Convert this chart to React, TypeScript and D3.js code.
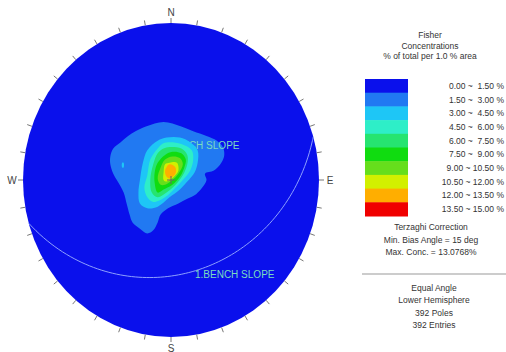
import React from "react";
import * as d3 from "d3";

const width = 506;
const height = 352;

// net placement (the reference is slightly stretched vertically)
const cx = 171;
const cy = 180;
const rx = 148;
const ry = 157;

const compassLabels = ["N", "E", "S", "W"];

const binLabels = [
  "0.00 ~  1.50 %",
  "1.50 ~  3.00 %",
  "3.00 ~  4.50 %",
  "4.50 ~  6.00 %",
  "6.00 ~  7.50 %",
  "7.50 ~  9.00 %",
  "9.00 ~ 10.50 %",
  "10.50 ~ 12.00 %",
  "12.00 ~ 13.50 %",
  "13.50 ~ 15.00 %",
];
const binColors = [
  "#0a10ec",
  "#2179f2",
  "#1ec6f6",
  "#2eeec8",
  "#26e470",
  "#10dc10",
  "#66de1c",
  "#d2f000",
  "#ffae00",
  "#f00000",
];

const titleLines = ["Fisher", "Concentrations", "% of total per 1.0 % area"];
const noteLines = ["Terzaghi Correction", "Min. Bias Angle = 15 deg", "Max. Conc. = 13.0768%"];
const infoLines = ["Equal Angle", "Lower Hemisphere", "392 Poles", "392 Entries"];

// contour outlines in % of net radius: [east, north]
const ring1: [number, number][] = [
  [-5, 37], [1, 36], [7, 34], [15, 31], [24, 28], [31, 25], [35, 21], [36, 16],
  [34, 11], [29, 6], [23, 4], [24, 0], [21, -5], [17, -9], [11, -12], [5, -15],
  [-2, -18], [-7, -22], [-9, -27], [-12, -32], [-16, -34], [-21, -31], [-26, -27],
  [-28, -22], [-30, -15], [-32, -8], [-36, -1], [-39, 4], [-41, 10], [-41, 15],
  [-39, 20], [-34, 24], [-29, 28], [-24, 31], [-17, 34], [-11, 36],
];
const ring2: [number, number][] = [
  [-3, 27], [6, 27], [13, 24], [18, 19], [18, 11], [16, 5], [11, -1], [6, -6],
  [-1, -11], [-9, -17], [-16, -18], [-21, -15], [-22, -8], [-21, 0], [-19, 11],
  [-16, 19], [-9, 25],
];
const ring3: [number, number][] = [
  [-2, 24], [7, 23], [14, 19], [15, 13], [13, 6], [8, 0], [3, -5], [-4, -11],
  [-12, -14], [-16, -11], [-18, -5], [-16, 3], [-14, 13], [-9, 20], [-6, 23],
];
const ring4: [number, number][] = [
  [-1, 21], [7, 20], [11, 16], [11, 10], [8, 3], [4, -2], [-3, -8], [-9, -11],
  [-13, -8], [-14, 0], [-12, 10], [-9, 17], [-5, 20],
];
const ring5: [number, number][] = [
  [1, 18], [7, 17], [10, 13], [9, 8], [6, 2], [1, -3], [-5, -6], [-9, -8],
  [-11, -2], [-11, 5], [-9, 11], [-4, 16],
];
const ring6: [number, number][] = [
  [1, 15], [6, 14], [8, 10], [5, 4], [1, 0], [-4, -3], [-7, -3], [-9, 1],
  [-7, 8], [-4, 13],
];
const ring7: [number, number][] = [
  [-1, 11], [4, 11], [5, 6], [2, 2], [-3, -1], [-5, 0], [-5, 5], [-4, 10],
];
const ring8: [number, number][] = [
  [-1, 10], [3, 8], [3, 4], [-1, 1], [-3, 2], [-4, 6],
];
const islandRing: [number, number][] = [
  [-33, 11], [-32, 11], [-32, 8], [-33, 8],
];

const contourRings = [
  { level: 1, pts: ring1 },
  { level: 2, pts: ring2 },
  { level: 2, pts: islandRing },
  { level: 3, pts: ring3 },
  { level: 4, pts: ring4 },
  { level: 5, pts: ring5 },
  { level: 6, pts: ring6 },
  { level: 7, pts: ring7 },
  { level: 8, pts: ring8 },
];

// bench slope plane
const benchName = "1.BENCH SLOPE";
const benchDip = 28;
const benchDipDir = 164;

const font = "'Liberation Sans', Arial, sans-serif";

export default function App() {
  const x = d3.scaleLinear().domain([-100, 100]).range([cx - rx, cx + rx]);
  const y = d3.scaleLinear().domain([-100, 100]).range([cy + ry, cy - ry]);

  const ringPath = d3
    .line<[number, number]>()
    .x((d) => x(d[0]))
    .y((d) => y(d[1]))
    .curve(d3.curveCatmullRomClosed.alpha(0.5));

  // great circle, lower hemisphere stereographic
  const rad = Math.PI / 180;
  const a = benchDipDir * rad;
  const dp = benchDip * rad;
  const sv = [Math.sin(a - Math.PI / 2), Math.cos(a - Math.PI / 2), 0];
  const dv = [Math.sin(a) * Math.cos(dp), Math.cos(a) * Math.cos(dp), Math.sin(dp)];
  const arcPts: [number, number][] = d3.range(0, 181, 2).map((t) => {
    const c = Math.cos(t * rad);
    const s = Math.sin(t * rad);
    const e = c * sv[0] + s * dv[0];
    const n = c * sv[1] + s * dv[1];
    const dn = Math.max(0, c * sv[2] + s * dv[2]);
    const plunge = Math.asin(Math.min(1, dn));
    const trend = Math.atan2(e, n);
    const r = Math.tan((Math.PI / 2 - plunge) / 2) * 100;
    return [r * Math.sin(trend), r * Math.cos(trend)];
  });
  const arcPath = d3
    .line<[number, number]>()
    .x((d) => x(d[0]))
    .y((d) => y(d[1]))
    .curve(d3.curveBasis)(arcPts);

  const ticks = d3.range(0, 360, 10);

  const band = d3.scaleBand<string>().domain(binLabels).range([79, 216]);

  const lowerRings = contourRings.filter((r) => r.level === 1);
  const upperRings = contourRings.filter((r) => r.level > 1);

  return (
    <svg
      width={width}
      height={height}
      style={{ position: "absolute", left: 0, top: 0, background: "#fff" }}
      fontFamily={font}
    >
      <ellipse cx={cx} cy={cy} rx={rx} ry={ry} fill={binColors[0]} />

      {ticks.map((deg) => {
        const t = deg * rad;
        const len = 5;
        const ux = Math.sin(t);
        const uy = -Math.cos(t);
        const x0 = cx + rx * ux;
        const y0 = cy + ry * uy;
        return (
          <line
            key={deg}
            x1={x0}
            y1={y0}
            x2={x0 + ux * len}
            y2={y0 + uy * len}
            stroke="#777"
            strokeWidth={1}
          />
        );
      })}

      {compassLabels.map((lab, i) => {
        const t = i * 90 * rad;
        const off = 11;
        return (
          <text
            key={lab}
            x={cx + (rx + off) * Math.sin(t)}
            y={cy - (ry + off) * Math.cos(t)}
            textAnchor="middle"
            dominantBaseline="central"
            fontSize={10}
            fill="#444"
          >
            {lab}
          </text>
        );
      })}

      {lowerRings.map((r, i) => (
        <path key={"l" + i} d={ringPath(r.pts) || ""} fill={binColors[r.level]} />
      ))}

      <text x={160} y={149} fontSize={10} fill="#7adcc0">
        {benchName}
      </text>

      {upperRings.map((r, i) => (
        <path key={"u" + i} d={ringPath(r.pts) || ""} fill={binColors[r.level]} />
      ))}

      <line x1={cx - 4} x2={cx + 4} y1={cy} y2={cy} stroke="#666" strokeWidth={1} />
      <line x1={cx} x2={cx} y1={cy - 4} y2={cy + 4} stroke="#666" strokeWidth={1} />

      <path d={arcPath || ""} fill="none" stroke="#8ea0ff" strokeWidth={1} />
      <text x={195} y={278} fontSize={10} fill="#7adcc0">
        {benchName}
      </text>

      {titleLines.map((t, i) => (
        <text key={t} x={430} y={38 + i * 10.5} textAnchor="middle" fontSize={8.5} fill="#333">
          {t}
        </text>
      ))}

      {binLabels.map((lab, i) => (
        <g key={lab}>
          <rect
            x={365}
            y={band(lab) ?? 0}
            width={43}
            height={band.bandwidth() + 0.5}
            fill={binColors[i]}
          />
          <text
            x={504}
            y={(band(lab) ?? 0) + band.bandwidth() / 2}
            dominantBaseline="central"
            textAnchor="end"
            fontSize={8.5}
            fill="#333"
            style={{ whiteSpace: "pre" }}
          >
            {lab}
          </text>
        </g>
      ))}

      {noteLines.map((t, i) => (
        <text key={t} x={431} y={230 + i * 12.5} textAnchor="middle" fontSize={8.5} fill="#333">
          {t}
        </text>
      ))}

      <line x1={362} x2={506} y1={274} y2={274} stroke="#bbb" strokeWidth={1.5} />

      {infoLines.map((t, i) => (
        <text key={t} x={434} y={291 + i * 12.3} textAnchor="middle" fontSize={8.5} fill="#333">
          {t}
        </text>
      ))}
    </svg>
  );
}
